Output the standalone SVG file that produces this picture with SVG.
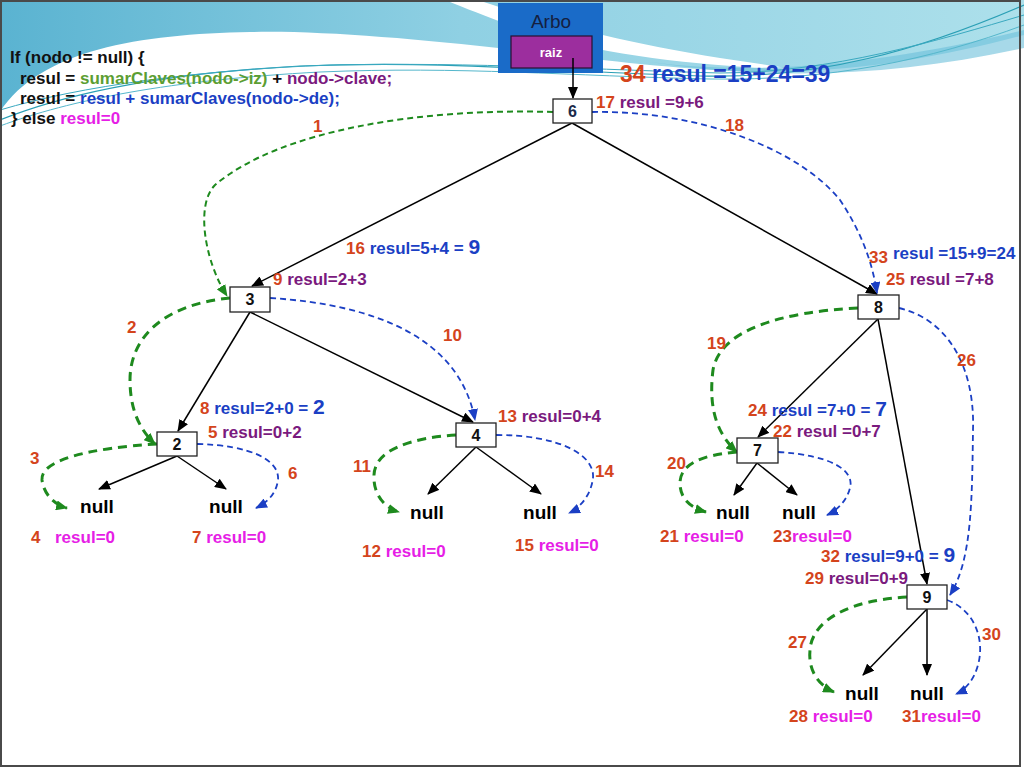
<svg xmlns="http://www.w3.org/2000/svg" width="1024" height="768" viewBox="0 0 1024 768">
<defs>
<linearGradient id="bg" x1="0" y1="0" x2="1" y2="0">
<stop offset="0" stop-color="#5ab3d1"/>
<stop offset="0.45" stop-color="#8fd0e3"/>
<stop offset="1" stop-color="#ade0eb"/>
</linearGradient>
<marker id="ak" markerUnits="userSpaceOnUse" markerWidth="12" markerHeight="10" refX="11" refY="5" orient="auto"><path d="M0,0 L12,5 L0,10 Z" fill="#000"/></marker>
<marker id="ag" markerUnits="userSpaceOnUse" markerWidth="12" markerHeight="10" refX="11" refY="5" orient="auto"><path d="M0,0 L12,5 L0,10 Z" fill="#1e8a1e"/></marker>
<marker id="ab" markerUnits="userSpaceOnUse" markerWidth="12" markerHeight="10" refX="11" refY="5" orient="auto"><path d="M0,0 L12,5 L0,10 Z" fill="#1b3fc4"/></marker>
</defs>
<style>
text{font-family:"Liberation Sans",Arial,sans-serif;font-weight:bold}
.node rect{fill:#fff;stroke:#222;stroke-width:1.3}
.node text{font-size:16px;text-anchor:middle;fill:#111}
.nul{font-size:19px;text-anchor:middle;fill:#000}
.edge{fill:none;stroke:#000;stroke-width:1.5;marker-end:url(#ak)}
.gt{fill:none;stroke:#1e8a1e;stroke-width:3;stroke-dasharray:9 6;marker-end:url(#ag)}
.gn{fill:none;stroke:#1e8a1e;stroke-width:2;stroke-dasharray:6 4;marker-end:url(#ag)}
.bl{fill:none;stroke:#1b3fc4;stroke-width:1.8;stroke-dasharray:6 4;marker-end:url(#ab)}
.lab{font-size:17px}
.n{fill:#d4441c}
.p{fill:#7a1a7e}
.b{fill:#1b3fc4}
.m{fill:#e61ee6}
.big{font-size:21px}
.code{font-size:17px;fill:#111}
.cg{fill:#5c9e32}
</style>
<rect x="0" y="0" width="1024" height="768" fill="#fff"/>
<g id="background">
<path d="M0,0 H1024 V35 C950,55 870,70 780,72 C700,72 620,62 560,55 C450,42 330,30 250,32 C140,34 40,50 0,112 Z" fill="url(#bg)"/>
<path d="M445,0 L478,0 C530,18 620,42 720,58 L800,70 C700,66 600,55 530,32 C500,22 470,10 445,0 Z" fill="#fff"/>
<path d="M650,62 C770,78 900,60 1024,30 V48 C900,75 780,82 650,62 Z" fill="#6cc0da" opacity="0.6"/>
<path d="M0,120 C60,96 150,74 300,66 C450,60 560,72 700,76 C820,79 920,50 1024,5" fill="none" stroke="#2a9fb5" stroke-width="1.2"/>
<path d="M0,110 C80,86 200,70 330,65 C480,62 600,70 720,73 C830,73 940,40 1024,15" fill="none" stroke="#3aa9c0" stroke-width="1"/>
<path d="M0,126 C70,100 170,80 320,72 C460,66 570,76 710,79 C830,81 930,60 1024,25" fill="none" stroke="#55b7cc" stroke-width="1"/>
<rect x="1" y="1" width="1019" height="765" fill="none" stroke="#4a4a4a" stroke-width="2"/>
</g>
<g id="code">
<text class="code" x="10" y="63">If (nodo != null)  {</text>
<text class="code" x="20" y="84">resul = <tspan class="cg">sumarClaves(nodo-&gt;iz)</tspan> + <tspan class="p">nodo-&gt;clave;</tspan></text>
<text class="code" x="20" y="104">resul = <tspan class="b">resul + sumarClaves(nodo-&gt;de);</tspan></text>
<text class="code" x="11" y="124">} else <tspan class="m">resul=0</tspan></text>
</g>
<g id="arbo">
<rect x="498" y="3" width="105" height="70" fill="#1a6bc8"/>
<text x="551" y="28" font-size="19" fill="#152040" text-anchor="middle" style="font-weight:normal">Arbo</text>
<rect x="511" y="36" width="81" height="32" fill="#9c2e9e" stroke="#2a1030" stroke-width="1.2"/>
<text x="551" y="57" font-size="13" fill="#fff" text-anchor="middle">raiz</text>
</g>
<g id="connectors">
<path class="edge" d="M573,58 V98"/>
<path class="edge" d="M572,123 L252,286"/>
<path class="edge" d="M572,123 L877,294"/>
<path class="edge" d="M250,312 L178,431"/>
<path class="edge" d="M250,312 L473,422"/>
<path class="edge" d="M177,456 L99,489"/>
<path class="edge" d="M177,456 L226,489"/>
<path class="edge" d="M476,447 L428,494"/>
<path class="edge" d="M476,447 L541,494"/>
<path class="edge" d="M878,319 L758,437"/>
<path class="edge" d="M878,319 L927,584"/>
<path class="edge" d="M757,463 L734,495"/>
<path class="edge" d="M757,463 L797,495"/>
<path class="edge" d="M927,609 L863,675"/>
<path class="edge" d="M927,609 V675"/>
<path class="gn" d="M553,112 C420,108 280,130 215,185 C195,205 205,262 227,296"/>
<path class="bl" d="M592,112 C700,110 800,150 840,200 C860,230 872,260 877,293"/>
<path class="gt" d="M230,298 C160,305 130,340 130,380 C130,410 140,430 155,444"/>
<path class="bl" d="M270,298 C380,305 460,340 475,420"/>
<path class="gt" d="M157,444 C90,448 40,460 42,480 C44,495 55,505 67,508"/>
<path class="bl" d="M197,444 C250,445 280,460 278,480 C276,495 266,503 256,508"/>
<path class="gt" d="M456,435 C410,438 375,450 374,475 C373,495 385,508 399,512"/>
<path class="bl" d="M496,435 C560,435 595,455 593,478 C591,495 580,508 569,513"/>
<path class="gt" d="M858,308 C780,312 720,330 713,370 C708,410 718,435 737,452"/>
<path class="bl" d="M899,308 C950,320 975,370 973,430 C972,500 972,560 950,595"/>
<path class="gt" d="M737,452 C700,455 680,465 680,483 C680,500 692,508 706,512"/>
<path class="bl" d="M778,452 C830,455 855,470 850,488 C847,500 838,510 827,515"/>
<path class="gt" d="M907,597 C850,600 812,620 810,650 C808,670 818,685 834,692"/>
<path class="bl" d="M947,600 C975,610 985,640 978,665 C974,680 965,690 956,694"/>
</g>
<g id="node-6" class="node"><rect x="553" y="99" width="39" height="24"/><text x="572.5" y="117" style="fill:#1a2a4a">6</text></g>
<g id="node-3" class="node"><rect x="230" y="287" width="40" height="25"/><text x="250" y="305">3</text></g>
<g id="node-8" class="node"><rect x="858" y="295" width="41" height="24"/><text x="878.5" y="313">8</text></g>
<g id="node-2" class="node"><rect x="157" y="432" width="40" height="24"/><text x="177" y="450">2</text></g>
<g id="node-4" class="node"><rect x="456" y="423" width="40" height="24"/><text x="476" y="441">4</text></g>
<g id="node-7" class="node"><rect x="737" y="438" width="41" height="25"/><text x="757.5" y="456">7</text></g>
<g id="node-9" class="node"><rect x="907" y="585" width="40" height="24"/><text x="927" y="603">9</text></g>
<g id="null-2l"><text class="nul" x="97" y="513">null</text></g>
<g id="null-2r"><text class="nul" x="226" y="513">null</text></g>
<g id="null-4l"><text class="nul" x="427" y="519">null</text></g>
<g id="null-4r"><text class="nul" x="540" y="519">null</text></g>
<g id="null-7l"><text class="nul" x="733" y="519">null</text></g>
<g id="null-7r"><text class="nul" x="799" y="519">null</text></g>
<g id="null-9l"><text class="nul" x="862" y="700">null</text></g>
<g id="null-9r"><text class="nul" x="927" y="700">null</text></g>
<g id="labels">
<text x="620" y="82" style="font-size:23px"><tspan class="n">34</tspan> <tspan class="b">resul =15+24=39</tspan></text>
<text class="lab" x="596" y="108"><tspan class="n">17</tspan> <tspan class="p">resul =9+6</tspan></text>
<text class="lab n" x="313" y="132">1</text>
<text class="lab n" x="725" y="131">18</text>
<text class="lab" x="346" y="254"><tspan class="n">16</tspan> <tspan class="b">resul=5+4 = </tspan><tspan class="b big">9</tspan></text>
<text class="lab" x="273" y="285"><tspan class="n">9</tspan> <tspan class="p">resul=2+3</tspan></text>
<text class="lab n" x="127" y="333">2</text>
<text class="lab n" x="443" y="341">10</text>
<text class="lab" x="200" y="414"><tspan class="n">8</tspan> <tspan class="b">resul=2+0 = </tspan><tspan class="b big">2</tspan></text>
<text class="lab" x="208" y="438"><tspan class="n">5</tspan> <tspan class="p">resul=0+2</tspan></text>
<text class="lab n" x="30" y="464">3</text>
<text class="lab n" x="288" y="479">6</text>
<text class="lab" x="31" y="543"><tspan class="n">4</tspan>  <tspan class="m" x="55">resul=0</tspan></text>
<text class="lab" x="192" y="543"><tspan class="n">7</tspan> <tspan class="m">resul=0</tspan></text>
<text class="lab" x="498" y="422"><tspan class="n">13</tspan> <tspan class="p">resul=0+4</tspan></text>
<text class="lab n" x="353" y="472">11</text>
<text class="lab n" x="595" y="477">14</text>
<text class="lab" x="362" y="557"><tspan class="n">12</tspan> <tspan class="m">resul=0</tspan></text>
<text class="lab" x="515" y="551"><tspan class="n">15</tspan> <tspan class="m">resul=0</tspan></text>
<text class="lab n" x="869" y="263">33</text>
<text class="lab b" x="893" y="259">resul =15+9=24</text>
<text class="lab" x="886" y="285"><tspan class="n">25</tspan> <tspan class="p">resul =7+8</tspan></text>
<text class="lab n" x="707" y="349">19</text>
<text class="lab n" x="957" y="366">26</text>
<text class="lab" x="748" y="416"><tspan class="n">24</tspan> <tspan class="b">resul =7+0 = </tspan><tspan class="b big">7</tspan></text>
<text class="lab" x="773" y="437"><tspan class="n">22</tspan> <tspan class="p">resul =0+7</tspan></text>
<text class="lab n" x="667" y="469">20</text>
<text class="lab" x="660" y="542"><tspan class="n">21</tspan> <tspan class="m">resul=0</tspan></text>
<text class="lab" x="773" y="542"><tspan class="n">23</tspan><tspan class="m">resul=0</tspan></text>
<text class="lab" x="821" y="562"><tspan class="n">32</tspan> <tspan class="b">resul=9+0 = </tspan><tspan class="b big">9</tspan></text>
<text class="lab" x="805" y="584"><tspan class="n">29</tspan> <tspan class="p">resul=0+9</tspan></text>
<text class="lab n" x="788" y="648">27</text>
<text class="lab n" x="982" y="640">30</text>
<text class="lab" x="789" y="722"><tspan class="n">28</tspan> <tspan class="m">resul=0</tspan></text>
<text class="lab" x="902" y="722"><tspan class="n">31</tspan><tspan class="m">resul=0</tspan></text>
</g>
</svg>
